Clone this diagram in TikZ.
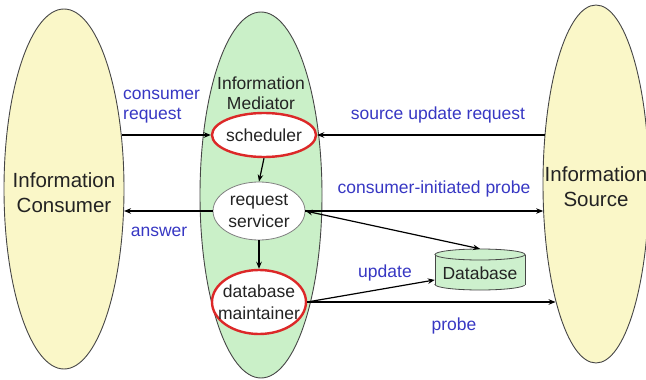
\documentclass[tikz,border=0pt]{standalone}
\usepackage{fontspec}
\setmainfont{Liberation Sans}
\usetikzlibrary{shapes.geometric,arrows.meta}

\definecolor{sideyellow}{RGB}{250,247,200}
\definecolor{midgreen}{RGB}{202,240,200}
\definecolor{dbgreen}{RGB}{205,240,205}
\definecolor{labelblue}{RGB}{55,55,195}
\definecolor{ringred}{RGB}{220,40,40}
\definecolor{edgegray}{RGB}{70,70,70}
\definecolor{inktext}{RGB}{35,35,35}

\tikzset{
  bigtext/.style={inner sep=0pt, align=center, text=inktext, font=\fontsize{20.5}{25}\selectfont},
  smalltext/.style={inner sep=0pt, align=center, text=inktext, font=\fontsize{17.5}{21.5}\selectfont},
  party/.style={ellipse, draw=edgegray, line width=0.9pt, fill=sideyellow, inner sep=0pt},
  mediatorbody/.style={ellipse, draw=edgegray, line width=0.9pt, fill=midgreen, inner sep=0pt},
  task/.style={ellipse, fill=white, inner sep=0pt},
  keytask/.style={task, draw=ringred, line width=2.4pt},
  plaintask/.style={task, draw=gray, line width=0.8pt},
  flow/.style={line width=1.2pt, -{Stealth[length=7pt,width=5.5pt]}},
  twoway/.style={line width=1.2pt, {Stealth[length=7pt,width=5.5pt]}-{Stealth[length=7pt,width=5.5pt]}},
  flowlabel/.style={text=labelblue, font=\fontsize{17.5}{20}\selectfont, inner sep=0pt, align=left},
  store/.style={fill=dbgreen, draw=edgegray, line width=0.8pt},
}

\begin{document}
\begin{tikzpicture}[x=1pt,y=-1pt]
\useasboundingbox (0,0) rectangle (646,380);

% the two outer parties and the mediator between them
\node[party, minimum width=120, minimum height=360,
      label={[bigtext, yshift=-4pt]center:Information\\Consumer}] (consumer) at (64,189) {};
\node[party, minimum width=106, minimum height=358,
      label={[bigtext, yshift=-3pt]center:Information\\Source}] (source) at (596,184) {};
\node[mediatorbody, minimum width=122, minimum height=366] (mediator) at (261,195) {};
\node[smalltext, font=\fontsize{17.5}{20}\selectfont] (medlabel) at (261,93) {Information\\Mediator};

% tasks inside the mediator
\node[keytask, minimum width=104, minimum height=44,
      label={[smalltext]center:scheduler}] (scheduler) at (264,135) {};
\node[plaintask, minimum width=92, minimum height=58,
      label={[smalltext]center:request\\servicer}] (servicer) at (259,211) {};
\node[keytask, minimum width=94, minimum height=64,
      label={[smalltext]center:database\\maintainer}] (maintainer) at (259,302) {};

% database cylinder
\node[inner sep=0pt, minimum width=90, minimum height=41] (db) at (480,269.5) {};
\fill[dbgreen] (480,284.5) ellipse[x radius=45, y radius=5.5];
\draw[edgegray, line width=0.8pt] (480,284.5) ellipse[x radius=45, y radius=5.5];
\fill[dbgreen] (435,254.5) rectangle (525,284.5);
\draw[edgegray, line width=0.8pt] (435,254.5) -- (435,284.5) (525,254.5) -- (525,284.5);
\draw[store] (480,254.5) ellipse[x radius=45, y radius=5.5];
\node[smalltext, text height=19.3pt, text depth=0pt] (dbtext) at (db.center) {Database};

% connectors
\draw[flow] (scheduler.west -| consumer.43.35) -- (scheduler.west);
\draw[flow] (scheduler.east -| source.136.14) -- (scheduler.east);
\draw[flow] (scheduler.south) -- (servicer.north);
\draw[flow] (servicer.south) -- (maintainer.north);
\draw[flow] (servicer.west) -- (servicer.west -| consumer.-20.28);
\draw[flow] (servicer.east) -- (servicer.east -| source.207.27);
\draw[twoway] (servicer.east) -- (db.north);
\draw[flow] (maintainer.east) -- (db.193);
\draw[flow] (maintainer.east) -- (maintainer.east -| source.251.34);

% labels
\node[flowlabel, anchor=west] (lblrequest) at (123,107) {consumer\\request};
\node[flowlabel] (lblsource) at (438,115) {source update request};
\node[flowlabel] (lblprobe) at (434,189) {consumer-initiated probe};
\node[flowlabel] (lblanswer) at (159,232) {answer};
\node[flowlabel] (lblupdate) at (385,273) {update};
\node[flowlabel] (lblprobe2) at (454,326) {probe};
\end{tikzpicture}
\end{document}
